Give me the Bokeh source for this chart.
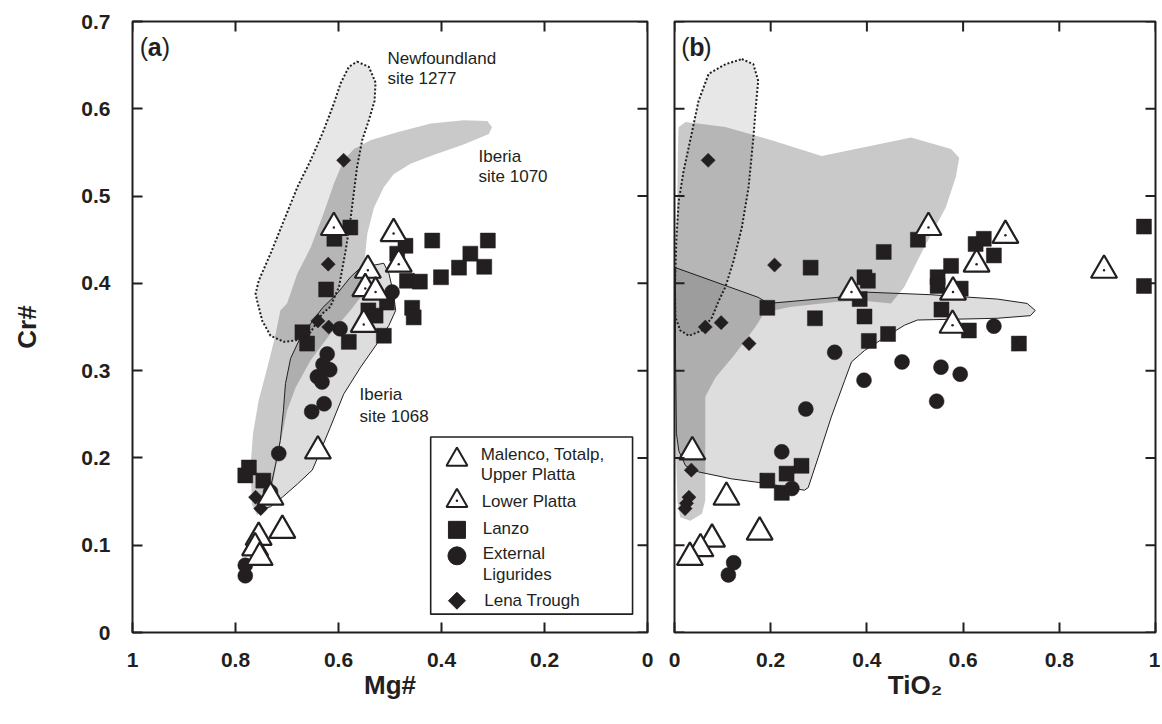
from bokeh.plotting import figure
from bokeh.layouts import row
from bokeh.models import Range1d, FixedTicker
from bokeh.core.properties import value
from bokeh.embed import file_html
from bokeh.resources import INLINE
import math

INK = "#231f20"
FONT = "Liberation Sans"

# ---------------- axes ----------------
Y_TICKS = [0, 0.1, 0.2, 0.3, 0.4, 0.5, 0.6, 0.7]
Y_TICK_LABELS = ["0", "0.1", "0.2", "0.3", "0.4", "0.5", "0.6", "0.7"]
MG_TICKS = [1, 0.8, 0.6, 0.4, 0.2, 0]
MG_TICK_LABELS = ["1", "0.8", "0.6", "0.4", "0.2", "0"]
TI_TICKS = [0, 0.2, 0.4, 0.6, 0.8, 1]
TI_TICK_LABELS = ["0", "0.2", "0.4", "0.6", "0.8", "1"]

# ---------------- panel (a): Mg# vs Cr# ----------------
MAL_A_MG = [0.640, 0.732, 0.709, 0.755, 0.762, 0.753]
MAL_A_CR = [0.208, 0.155, 0.117, 0.109, 0.097, 0.086]

LP_A_MG = [0.609, 0.493, 0.483, 0.543, 0.548, 0.528, 0.551]
LP_A_CR = [0.464, 0.457, 0.422, 0.415, 0.394, 0.390, 0.353]

LAN_A_MG = [0.577, 0.608, 0.470, 0.418, 0.310, 0.344, 0.366, 0.317, 0.401, 0.486,
            0.467, 0.442, 0.624, 0.457, 0.454, 0.542, 0.528, 0.506, 0.512, 0.580,
            0.670, 0.661, 0.774, 0.781, 0.746]
LAN_A_CR = [0.464, 0.451, 0.443, 0.449, 0.449, 0.434, 0.418, 0.419, 0.407, 0.434,
            0.403, 0.402, 0.393, 0.372, 0.361, 0.369, 0.363, 0.378, 0.340, 0.333,
            0.344, 0.331, 0.189, 0.180, 0.174]

LIG_A_MG = [0.496, 0.597, 0.622, 0.630, 0.617, 0.641, 0.632, 0.628, 0.652, 0.716,
            0.732, 0.781, 0.781]
LIG_A_CR = [0.390, 0.348, 0.319, 0.307, 0.301, 0.293, 0.287, 0.262, 0.253, 0.205,
            0.161, 0.077, 0.065]

LENA_A_MG = [0.590, 0.620, 0.640, 0.619, 0.761, 0.751]
LENA_A_CR = [0.541, 0.422, 0.357, 0.350, 0.155, 0.142]

# fields, panel (a)
NF_A_MG = [0.564, 0.541, 0.528, 0.530, 0.541, 0.554, 0.564, 0.577, 0.586, 0.599,
           0.616, 0.632, 0.654, 0.680, 0.706, 0.732, 0.748, 0.758, 0.761, 0.755,
           0.732, 0.706, 0.680, 0.654, 0.629, 0.609, 0.596, 0.580]
NF_A_CR = [0.654, 0.648, 0.630, 0.609, 0.587, 0.564, 0.533, 0.472, 0.438, 0.396,
           0.373, 0.365, 0.344, 0.335, 0.333, 0.340, 0.357, 0.380, 0.388, 0.403,
           0.434, 0.472, 0.510, 0.541, 0.575, 0.606, 0.629, 0.648]

IB70_A_MG = [0.302, 0.308, 0.357, 0.421, 0.460, 0.493, 0.512, 0.531, 0.544, 0.548,
             0.551, 0.557, 0.577, 0.616, 0.654, 0.683, 0.700, 0.716, 0.729, 0.745,
             0.758, 0.768, 0.771, 0.766, 0.755, 0.738, 0.722, 0.713, 0.700, 0.680,
             0.654, 0.629, 0.609, 0.590, 0.570, 0.538, 0.486, 0.421, 0.357, 0.311]
IB70_A_CR = [0.579, 0.571, 0.559, 0.546, 0.537, 0.525, 0.510, 0.487, 0.457, 0.434,
             0.411, 0.384, 0.369, 0.342, 0.312, 0.281, 0.254, 0.208, 0.166, 0.144,
             0.134, 0.147, 0.189, 0.228, 0.266, 0.304, 0.342, 0.369, 0.377, 0.411,
             0.441, 0.480, 0.514, 0.541, 0.554, 0.564, 0.573, 0.583, 0.587, 0.586]

IB68_A_MG = [0.557, 0.512, 0.502, 0.493, 0.489, 0.502, 0.525, 0.557, 0.590, 0.616,
             0.635, 0.651, 0.680, 0.709, 0.732, 0.748, 0.755, 0.732, 0.722, 0.713,
             0.707, 0.703, 0.693, 0.674, 0.645, 0.631, 0.603, 0.577]
IB68_A_CR = [0.418, 0.423, 0.411, 0.388, 0.369, 0.352, 0.331, 0.304, 0.273, 0.235,
             0.208, 0.186, 0.170, 0.155, 0.144, 0.142, 0.145, 0.166, 0.193, 0.220,
             0.254, 0.285, 0.314, 0.338, 0.361, 0.372, 0.388, 0.407]

# ---------------- panel (b): TiO2 vs Cr# ----------------
MAL_B_TI = [0.037, 0.108, 0.177, 0.078, 0.054, 0.032]
MAL_B_CR = [0.207, 0.155, 0.115, 0.107, 0.096, 0.086]

LP_B_TI = [0.528, 0.688, 0.628, 0.893, 0.368, 0.579, 0.578]
LP_B_CR = [0.464, 0.455, 0.422, 0.415, 0.390, 0.390, 0.352]

LAN_B_TI = [0.283, 0.435, 0.506, 0.626, 0.643, 0.664, 0.575, 0.547, 0.547, 0.595,
            0.976, 0.976, 0.395, 0.402, 0.385, 0.193, 0.292, 0.395, 0.555, 0.612,
            0.716, 0.404, 0.444, 0.264, 0.233, 0.193, 0.223]
LAN_B_CR = [0.418, 0.436, 0.450, 0.445, 0.451, 0.432, 0.420, 0.407, 0.397, 0.394,
            0.465, 0.397, 0.407, 0.403, 0.382, 0.372, 0.360, 0.362, 0.370, 0.346,
            0.331, 0.334, 0.342, 0.191, 0.182, 0.174, 0.160]

LIG_B_TI = [0.664, 0.333, 0.473, 0.554, 0.594, 0.394, 0.545, 0.273, 0.223, 0.244,
            0.123, 0.112]
LIG_B_CR = [0.351, 0.321, 0.310, 0.304, 0.296, 0.289, 0.265, 0.256, 0.207, 0.165,
            0.080, 0.066]

LENA_B_TI = [0.070, 0.208, 0.064, 0.097, 0.155, 0.035, 0.030, 0.025, 0.022]
LENA_B_CR = [0.541, 0.421, 0.350, 0.355, 0.331, 0.186, 0.155, 0.148, 0.142]

# fields, panel (b)
NF_B_TI = [0.140, 0.164, 0.174, 0.169, 0.164, 0.154, 0.140, 0.123, 0.106, 0.092,
           0.078, 0.057, 0.030, 0.012, 0.002, 0.001, 0.004, 0.009, 0.019, 0.037,
           0.050, 0.071, 0.106]
NF_B_CR = [0.657, 0.651, 0.632, 0.602, 0.567, 0.510, 0.464, 0.426, 0.396, 0.380,
           0.361, 0.346, 0.340, 0.346, 0.361, 0.396, 0.453, 0.495, 0.529, 0.575,
           0.609, 0.640, 0.651]

IB70_B_TI = [0.009, 0.023, 0.106, 0.202, 0.306, 0.492, 0.575, 0.592, 0.585, 0.564,
             0.519, 0.478, 0.450, 0.395, 0.339, 0.240, 0.188, 0.168, 0.126, 0.085,
             0.064, 0.064, 0.057, 0.033, 0.012, 0.006, 0.002, 0.000, 0.006, 0.008]
IB70_B_CR = [0.579, 0.585, 0.579, 0.564, 0.546, 0.567, 0.554, 0.544, 0.522, 0.487,
             0.441, 0.396, 0.377, 0.380, 0.379, 0.373, 0.367, 0.350, 0.319, 0.292,
             0.270, 0.151, 0.136, 0.128, 0.132, 0.151, 0.228, 0.323, 0.510, 0.575]

IB68_B_TI = [0.002, 0.174, 0.195, 0.340, 0.395, 0.533, 0.671, 0.733, 0.750, 0.740,
             0.671, 0.505, 0.478, 0.437, 0.395, 0.368, 0.354, 0.326, 0.299, 0.278,
             0.270, 0.188, 0.119, 0.050, 0.023, 0.009, 0.004, 0.002]
IB68_B_CR = [0.418, 0.384, 0.377, 0.384, 0.390, 0.387, 0.382, 0.377, 0.369, 0.363,
             0.360, 0.358, 0.352, 0.338, 0.323, 0.310, 0.289, 0.247, 0.201, 0.166,
             0.163, 0.171, 0.176, 0.184, 0.191, 0.208, 0.228, 0.323]

# ---------------- texts ----------------
LEGEND_LINES = ["Malenco, Totalp,", "Upper Platta", "Lower Platta", "Lanzo",
                "External", "Ligurides", "Lena Trough"]
FIELD_LABELS = ["Newfoundland", "site 1277", "Iberia", "site 1070", "Iberia", "site 1068"]

# layout (frame fractions: fx from left, fy from bottom)
LEG_BOX_FX = (0.579, 0.971)
LEG_BOX_FY = (0.030, 0.320)
LEG_LINE_FX = [0.676, 0.676, 0.678, 0.680, 0.680, 0.680, 0.683]
LEG_LINE_FY = [0.291, 0.259, 0.215, 0.170, 0.129, 0.095, 0.052]
LEG_MARK_FX = 0.630
LEG_MARK_FY = [0.283, 0.2155, 0.168, 0.1255, 0.052]
FIELD_FX = [0.495, 0.495, 0.672, 0.672, 0.441, 0.441]
FIELD_FY = [0.940, 0.907, 0.779, 0.747, 0.389, 0.354]
TAG_FX, TAG_FY = 0.014, 0.958

H = 710


def fig_a_xy(fx, fy):
    return 1 - fx, 0.7 * fy


def fig_b_xy(fx, fy):
    return fx, 0.7 * fy


def make_fig(width, x_range, xticks, xlabels, xtitle, left_labels, border_left, border_right):
    p = figure(width=width, height=H, x_range=x_range, y_range=Range1d(0, 0.7),
               min_border_left=border_left, min_border_right=border_right,
               min_border_top=21, min_border_bottom=78,
               toolbar_location=None, output_backend="svg",
               background_fill_color="white", border_fill_color="white")
    p.xgrid.visible = False
    p.ygrid.visible = False
    p.outline_line_color = INK
    p.outline_line_width = 2
    for ax in p.axis:
        ax.axis_line_color = None
        ax.major_tick_in = 10
        ax.major_tick_out = 0
        ax.major_tick_line_width = 2
        ax.major_tick_line_color = INK
        ax.minor_tick_line_color = None
        ax.major_label_text_font = FONT
        ax.major_label_text_font_style = "bold"
        ax.major_label_text_font_size = "21px"
        ax.major_label_text_color = INK
        ax.axis_label_text_font = FONT
        ax.axis_label_text_font_style = "bold"
        ax.axis_label_text_font_size = "26px"
        ax.axis_label_text_color = INK
    xb = p.below[0]
    xb.ticker = FixedTicker(ticks=xticks)
    xb.major_label_overrides = dict(zip(xticks, xlabels))
    xb.major_label_standoff = 20
    xb.axis_label = xtitle
    xb.axis_label_standoff = 0
    yl = p.left[0]
    yl.ticker = FixedTicker(ticks=Y_TICKS)
    if left_labels:
        yl.major_label_overrides = dict(zip(Y_TICKS, Y_TICK_LABELS))
        yl.major_label_standoff = 22
        yl.axis_label = "Cr#"
        yl.axis_label_standoff = 36
    else:
        yl.visible = False
    return p


def mirror_ticks(p, xticks, x_edges, y_top):
    # inward tick marks on the other frame edges (half of each dash is clipped by the frame)
    for xe in x_edges:
        p.scatter([xe] * len(Y_TICKS), Y_TICKS, marker="dash", size=20,
                  line_color=INK, line_width=2)
    p.scatter(xticks, [y_top] * len(xticks), marker="dash", angle=math.pi / 2, size=20,
              line_color=INK, line_width=2)


def fields(p, nf, ib70, ib68):
    p.patch(ib70[0], ib70[1], fill_color="black", fill_alpha=0.21, line_color=None)
    p.patch(ib68[0], ib68[1], fill_color="black", fill_alpha=0.135,
            line_color=INK, line_width=1)
    p.patch(nf[0], nf[1], fill_color="black", fill_alpha=0.095,
            line_color=INK, line_width=2, line_dash="2 2")


def points(p, mal, lp, lan, lig, lena):
    p.scatter(lan[0], lan[1], marker="square", size=15, fill_color=INK, line_color=INK, line_width=0.5)
    p.scatter(lig[0], lig[1], marker="circle", size=15, fill_color=INK, line_color=INK, line_width=0.5)
    p.scatter(lena[0], lena[1], marker="square", angle=math.pi / 4, size=10,
              fill_color=INK, line_color=INK, line_width=0.5)
    p.scatter(mal[0], mal[1], marker="triangle", size=26, fill_color="white",
              line_color=INK, line_width=2.2)
    p.scatter(lp[0], lp[1], marker="triangle", size=26, fill_color="white",
              line_color=INK, line_width=2.2)
    p.scatter(lp[0], lp[1], marker="circle", size=2.5, fill_color=INK, line_color=None)


def tag(p, conv, letter):
    x, y = conv(TAG_FX, TAG_FY)
    p.text(x=[x, x, x], y=[y, y, y], text=["(", letter, ")"], x_offset=[0, 8, 22],
           text_font=value(FONT), text_font_size="25px",
           text_font_style=["normal", "bold", "normal"],
           text_color=INK, text_baseline="middle", text_align="left")


# ---------------- panel (a) ----------------
pa = make_fig(660, Range1d(1, 0), MG_TICKS, MG_TICK_LABELS, "Mg#", True, 132, 13)
fields(pa, (NF_A_MG, NF_A_CR), (IB70_A_MG, IB70_A_CR), (IB68_A_MG, IB68_A_CR))
points(pa, (MAL_A_MG, MAL_A_CR), (LP_A_MG, LP_A_CR), (LAN_A_MG, LAN_A_CR),
       (LIG_A_MG, LIG_A_CR), (LENA_A_MG, LENA_A_CR))
mirror_ticks(pa, MG_TICKS, [0], 0.7)
tag(pa, fig_a_xy, "a")

fx_, fy_ = zip(*[fig_a_xy(a, b) for a, b in zip(FIELD_FX, FIELD_FY)])
pa.text(x=list(fx_), y=list(fy_), text=FIELD_LABELS, text_font=value(FONT),
        text_font_size="17px", text_color=INK, text_baseline="middle", text_align="left")

# legend
bx0, by0 = fig_a_xy(LEG_BOX_FX[0], LEG_BOX_FY[0])
bx1, by1 = fig_a_xy(LEG_BOX_FX[1], LEG_BOX_FY[1])
pa.quad(left=[bx0], right=[bx1], bottom=[by0], top=[by1], fill_color="white",
        line_color=INK, line_width=1.6)
mx = [fig_a_xy(LEG_MARK_FX, f)[0] for f in LEG_MARK_FY]
my = [fig_a_xy(LEG_MARK_FX, f)[1] for f in LEG_MARK_FY]
pa.scatter([mx[0]], [my[0]], marker="triangle", size=21, fill_color="white", line_color=INK, line_width=2)
pa.scatter([mx[1]], [my[1]], marker="triangle", size=21, fill_color="white", line_color=INK, line_width=2)
pa.scatter([mx[1]], [my[1]], marker="circle", size=2.5, fill_color=INK, line_color=None)
pa.scatter([mx[2]], [my[2]], marker="square", size=17, fill_color=INK, line_color=INK)
pa.scatter([mx[3]], [my[3]], marker="circle", size=18, fill_color=INK, line_color=INK)
pa.scatter([mx[4]], [my[4]], marker="square", angle=math.pi / 4, size=12, fill_color=INK, line_color=INK)
lx, ly = zip(*[fig_a_xy(a, b) for a, b in zip(LEG_LINE_FX, LEG_LINE_FY)])
pa.text(x=list(lx), y=list(ly), text=LEGEND_LINES, text_font=value(FONT),
        text_font_size="17px", text_color=INK, text_baseline="middle", text_align="left")

# ---------------- panel (b) ----------------
pb = make_fig(500, Range1d(0, 1), TI_TICKS, TI_TICK_LABELS, "TiO\u2082", False, 14, 5)
fields(pb, (NF_B_TI, NF_B_CR), (IB70_B_TI, IB70_B_CR), (IB68_B_TI, IB68_B_CR))
points(pb, (MAL_B_TI, MAL_B_CR), (LP_B_TI, LP_B_CR), (LAN_B_TI, LAN_B_CR),
       (LIG_B_TI, LIG_B_CR), (LENA_B_TI, LENA_B_CR))
mirror_ticks(pb, TI_TICKS, [0, 1], 0.7)
tag(pb, fig_b_xy, "b")

layout = row(pa, pb)
open("out.html", "w").write(file_html(layout, INLINE))
